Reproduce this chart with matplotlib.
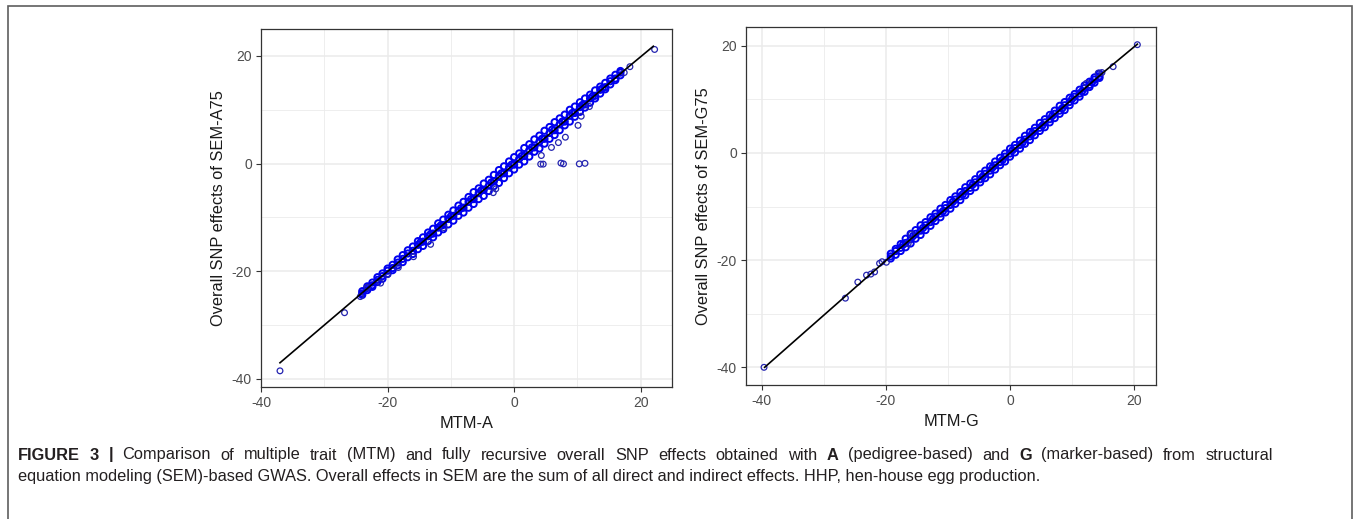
import numpy as np
import matplotlib
matplotlib.use("Agg")
import matplotlib.pyplot as plt
from matplotlib.patches import Rectangle

plt.rcParams['font.family'] = ['Liberation Sans', 'DejaVu Sans']
plt.rcParams['axes.unicode_minus'] = False

# ---- Panel A: MTM-A vs SEM-A75 ----
band_a_x = [-24.0, -23.2, -22.4, -21.6, -20.8, -20.0, -19.2, -18.4, -17.6, -16.8,
            -16.0, -15.2, -14.4, -13.6, -12.8, -12.0, -11.2, -10.4, -9.6, -8.8,
            -8.0, -7.2, -6.4, -5.6, -4.8, -4.0, -3.2, -2.4, -1.6, -0.8,
            0.0, 0.8, 1.6, 2.4, 3.2, 4.0, 4.8, 5.6, 6.4, 7.2,
            8.0, 8.8, 9.6, 10.4, 11.2, 12.0, 12.8, 13.6, 14.4, 15.2, 16.0, 16.8]
band_a_hi = [-23.7, -22.8, -22.1, -21.1, -20.4, -19.5, -18.8, -17.8, -17.0, -16.1,
             -15.4, -14.4, -13.7, -12.8, -12.1, -11.1, -10.4, -9.5, -8.7, -7.8,
             -7.1, -6.2, -5.3, -4.6, -3.7, -3.0, -2.1, -1.2, -0.5, 0.4,
             1.2, 1.9, 2.9, 3.6, 4.5, 5.2, 6.1, 6.8, 7.7, 8.4,
             9.1, 10.0, 10.6, 11.4, 12.1, 12.8, 13.6, 14.3, 15.0, 15.8, 16.5, 17.2]
band_a_mid = [-24.1, -23.1, -22.6, -21.6, -20.9, -19.9, -19.4, -18.4, -17.7, -16.7,
              -16.2, -15.1, -14.5, -13.5, -13.0, -11.9, -11.4, -10.3, -9.7, -8.8,
              -8.2, -7.1, -6.6, -5.5, -4.9, -4.1, -3.3, -2.3, -1.8, -0.7,
              -0.2, 0.9, 1.4, 2.5, 3.0, 4.1, 4.6, 5.7, 6.2, 7.3,
              7.8, 8.9, 9.4, 10.5, 11.0, 12.1, 12.6, 13.7, 14.2, 15.3, 15.8, 16.9]
band_a_lo = [-24.4, -23.5, -22.9, -22.0, -21.4, -20.5, -19.8, -18.9, -18.3, -17.4,
             -16.8, -15.9, -15.3, -14.4, -13.7, -12.8, -12.2, -11.3, -10.6, -9.7,
             -9.1, -8.2, -7.5, -6.6, -6.0, -5.1, -4.2, -3.6, -2.7, -1.8,
             -1.1, -0.2, 0.4, 1.3, 2.2, 2.8, 3.7, 4.6, 5.3, 6.2,
             7.1, 7.8, 8.7, 9.6, 10.4, 11.3, 12.1, 13.0, 13.8, 14.7, 15.5, 16.4]
# in-between SNPs that fill the dense band
fill_a_x = [-14.8, -13.2, -11.6, -10.0, -8.4, -6.8, -5.2, -3.6, -2.0, -0.4,
            1.2, 2.8, 4.4, 6.0, 7.6, 9.2, 10.8, 12.4, 14.0]
fill_a_y = [-14.6, -13.1, -11.5, -9.8, -8.3, -6.6, -5.0, -3.5, -1.8, -0.2,
            1.4, 3.0, 4.6, 6.3, 7.8, 9.4, 10.9, 12.5, 14.0]
out_a_x = [-37.0, -26.8, -24.3, -23.2, -21.1, -20.0, -18.3, -15.9, -13.2, -11.1,
           -3.3, -2.9, 4.3, 5.9, 7.0, 8.1, 10.1, 10.6, 11.9, 17.4, 18.3, 22.2,
           4.2, 4.6, 7.4, 7.8, 10.3, 11.2]
out_a_y = [-38.5, -27.7, -24.7, -23.0, -22.2, -20.6, -19.3, -17.3, -15.0, -11.9,
           -5.4, -4.7, 1.5, 3.0, 3.9, 4.9, 7.1, 8.8, 10.6, 16.9, 18.0, 21.2,
           -0.1, -0.1, 0.1, -0.05, -0.05, 0.05]
line_a_x = [-37.0, -32.0, -27.0, -22.0, -17.0, -12.0, -7.0, -2.0, 3.0, 8.0, 13.0, 18.0, 22.0]
line_a_y = [-37.0, -32.0, -27.0, -22.0, -17.1, -12.1, -7.1, -2.1, 2.9, 7.9, 12.9, 17.9, 21.8]

# ---- Panel G: MTM-G vs SEM-G75 ----
band_g_x = [-19.2, -18.4, -17.6, -16.8, -16.0, -15.2, -14.4, -13.6, -12.8, -12.0,
            -11.2, -10.4, -9.6, -8.8, -8.0, -7.2, -6.4, -5.6, -4.8, -4.0,
            -3.2, -2.4, -1.6, -0.8, 0.0, 0.8, 1.6, 2.4, 3.2, 4.0,
            4.8, 5.6, 6.4, 7.2, 8.0, 8.8, 9.6, 10.4, 11.2, 12.0, 12.8, 13.6, 14.4]
band_g_hi = [-18.8, -17.9, -17.0, -16.0, -15.1, -14.4, -13.5, -12.9, -12.0, -11.3,
             -10.4, -9.7, -8.8, -8.1, -7.3, -6.4, -5.7, -4.9, -4.0, -3.3,
             -2.5, -1.6, -0.9, -0.1, 0.8, 1.5, 2.3, 3.2, 3.9, 4.7,
             5.6, 6.3, 7.1, 7.9, 8.8, 9.5, 10.3, 11.0, 11.8, 12.6, 13.3, 14.1, 14.8]
band_g_mid = [-19.3, -18.3, -17.7, -16.8, -16.1, -15.1, -14.5, -13.5, -12.9, -11.9,
              -11.3, -10.3, -9.7, -8.7, -8.1, -7.1, -6.5, -5.5, -4.9, -3.9,
              -3.3, -2.3, -1.7, -0.7, -0.1, 0.9, 1.5, 2.5, 3.1, 4.1,
              4.7, 5.7, 6.3, 7.3, 7.9, 8.9, 9.5, 10.5, 11.1, 12.1, 12.7, 13.7, 14.3]
band_g_lo = [-19.7, -19.0, -18.3, -17.6, -16.9, -16.0, -15.3, -14.4, -13.6, -12.7,
             -12.0, -11.1, -10.4, -9.5, -8.8, -7.9, -7.1, -6.4, -5.5, -4.7,
             -4.0, -3.1, -2.3, -1.6, -0.7, 0.1, 0.8, 1.7, 2.4, 3.3,
             4.1, 4.8, 5.7, 6.5, 7.3, 8.0, 8.9, 9.8, 10.5, 11.4, 12.3, 13.1, 14.0]
fill_g_x = [-17.2, -15.6, -14.0, -12.4, -10.8, -9.2, -7.6, -6.0, -4.4, -2.8,
            -1.2, 0.4, 2.0, 3.6, 5.2, 6.8, 8.4, 10.0, 11.6, 13.2]
fill_g_y = [-17.1, -15.5, -14.0, -12.3, -10.9, -9.1, -7.7, -5.9, -4.4, -2.7,
            -1.3, 0.5, 1.9, 3.7, 5.1, 6.9, 8.3, 10.1, 11.5, 13.2]
out_g_x = [-39.6, -26.5, -24.5, -23.1, -22.4, -21.8, -21.0, -20.6, -19.9,
           -16.4, -15.9, 12.3, 14.2, 14.8, 16.6, 20.5]
out_g_y = [-40.0, -27.1, -24.1, -22.8, -22.6, -22.2, -20.6, -20.3, -20.4,
           -16.9, -15.2, 13.0, 14.9, 15.0, 16.1, 20.2]
line_g_x = [-39.5, -35.0, -30.0, -25.0, -20.0, -15.0, -10.0, -5.0, 0.0, 5.0, 10.0, 15.0, 20.5]
line_g_y = [-40.0, -35.4, -30.3, -25.2, -20.1, -15.1, -10.1, -5.0, 0.0, 5.0, 10.0, 15.0, 20.3]

major_ticks = [-40, -20, 0, 20]
minor_ticks = [-30, -10, 10]

caption_line1 = [("FIGURE", "bold"), ("3", "bold"), ("|", "bold"),
                 ("Comparison", "normal"), ("of", "normal"), ("multiple", "normal"),
                 ("trait", "normal"), ("(MTM)", "normal"), ("and", "normal"),
                 ("fully", "normal"), ("recursive", "normal"), ("overall", "normal"),
                 ("SNP", "normal"), ("effects", "normal"), ("obtained", "normal"),
                 ("with", "normal"), ("A", "bold"), ("(pedigree-based)", "normal"),
                 ("and", "normal"), ("G", "bold"), ("(marker-based)", "normal"),
                 ("from", "normal"), ("structural", "normal")]
caption_line2 = ("equation modeling (SEM)-based GWAS. Overall effects in SEM are the sum of all direct "
                 "and indirect effects. HHP, hen-house egg production.")

W, H = 1358, 519
fig = plt.figure(figsize=(W / 100, H / 100), dpi=100)

# outer frame
fig.patches.append(Rectangle((8 / W, -0.01), (1352 - 8) / W, 1 - 6 / H + 0.01,
                             transform=fig.transFigure, fill=False,
                             edgecolor='#5e5e5e', linewidth=1.2))


def panel(rect, bands, fx, fy, out_x, out_y, lx, ly, xlim, ylim, xlabel, ylabel):
    ax = fig.add_axes(rect)
    bx = bands[0]
    kw = dict(s=20, facecolors='none', linewidths=1.4, zorder=3)
    for ys in bands[1:]:
        ax.scatter(bx, ys, edgecolors='#0000f0', **kw)
    ax.scatter(fx, fy, edgecolors='#0000f0', **kw)
    ax.scatter(out_x, out_y, edgecolors='#2424b0', **dict(kw, s=17, linewidths=0.9))
    ax.plot(lx, ly, color='black', lw=1.2, zorder=4)
    ax.set_xlim(xlim)
    ax.set_ylim(ylim)
    ax.set_xticks(major_ticks)
    ax.set_yticks(major_ticks)
    ax.set_xticks(minor_ticks, minor=True)
    ax.set_yticks(minor_ticks, minor=True)
    ax.grid(True, which='major', color='#ebebeb', lw=1.1, zorder=0)
    ax.grid(True, which='minor', color='#ebebeb', lw=0.6, zorder=0)
    ax.set_axisbelow(True)
    ax.tick_params(which='major', length=3.5, width=0.8, color='#333333',
                   labelsize=10, labelcolor='#4d4d4d', pad=3)
    ax.tick_params(which='minor', length=0)
    for s in ax.spines.values():
        s.set_color('#333333')
        s.set_linewidth(0.9)
    ax.set_xlabel(xlabel, fontsize=11.8, color='#1a1a1a', labelpad=4)
    ax.set_ylabel(ylabel, fontsize=11.8, color='#1a1a1a', labelpad=4)
    return ax


panel([261 / W, 1 - 387 / H, 411 / W, 358 / H],
      (band_a_x, band_a_hi, band_a_mid, band_a_lo), fill_a_x, fill_a_y,
      out_a_x, out_a_y, line_a_x, line_a_y, (-39.95, 24.95), (-41.5, 25.0),
      'MTM-A', 'Overall SNP effects of SEM-A75')
panel([746 / W, 1 - 385 / H, 410 / W, 358 / H],
      (band_g_x, band_g_hi, band_g_mid, band_g_lo), fill_g_x, fill_g_y,
      out_g_x, out_g_y, line_g_x, line_g_y, (-42.5, 23.5), (-43.3, 23.5),
      'MTM-G', 'Overall SNP effects of SEM-G75')

# caption: first line justified to the text block width, second line ragged
renderer = fig.canvas.get_renderer()
cap_kw = dict(fontsize=11.8, color='#231f20', va='center', ha='left')
x0, x_end = 18, 1273
words = [fig.text(0, 1 - 455 / H, w, fontweight=wt, **cap_kw) for w, wt in caption_line1]
widths = [t.get_window_extent(renderer).width for t in words]
gap = (x_end - x0 - sum(widths)) / (len(words) - 1)
xpix = x0
for t, w in zip(words, widths):
    t.set_x(xpix / W)
    xpix += w + gap
fig.text(x0 / W, 1 - 477 / H, caption_line2, fontweight='normal', **cap_kw)

fig.savefig('out.png', dpi=100)
